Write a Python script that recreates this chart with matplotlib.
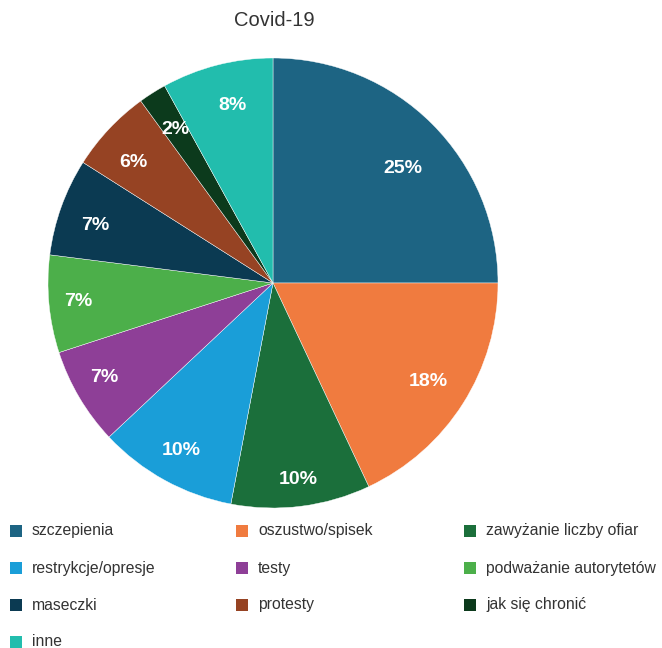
import numpy as np
import matplotlib
matplotlib.use("Agg")
import matplotlib.pyplot as plt
from matplotlib.patches import Rectangle

plt.rcParams['font.family'] = ['Liberation Sans', 'DejaVu Sans']

title = "Covid-19"
categories = ["szczepienia", "oszustwo/spisek", "zawyżanie liczby ofiar",
              "restrykcje/opresje", "testy", "podważanie autorytetów",
              "maseczki", "protesty", "jak się chronić", "inne"]
values = [25, 18, 10, 10, 7, 7, 7, 6, 2, 8]
colors = ["#1d6483", "#f07b3f", "#1b6f3b", "#1a9ed8", "#8e3f97",
          "#4caf4a", "#0b3a52", "#964323", "#0c3a1c", "#22bdad"]

# placement of the percentage labels inside each wedge
label_radius = [0.77, 0.82, 0.88, 0.85, 0.86, 0.87, 0.83, 0.82, 0.81, 0.81]
label_shift_deg = [3.5, 0, 0, 0, 1.5, 0, -2, -2.4, 0, 1.4]

W, H = 662, 648
fig = plt.figure(figsize=(W / 100, H / 100), dpi=100)

cx, cy, r = 273, 283, 225
ax = fig.add_axes([(cx - r) / W, (H - cy - r) / H, 2 * r / W, 2 * r / H])
wedges, texts, autotexts = ax.pie(
    values, colors=colors, startangle=90, counterclock=False, radius=1,
    autopct=lambda p: f"{p:.0f}%", pctdistance=0.8,
    wedgeprops=dict(edgecolor="white", linewidth=0.3),
    textprops=dict(color="white", fontsize=14, fontweight="bold"))

total = sum(values)
start = 0.0
for v, t, rad, sh in zip(values, autotexts, label_radius, label_shift_deg):
    mid = np.deg2rad((start + v / 2) / total * 360 + sh)  # clockwise from top
    t.set_position((rad * np.sin(mid), rad * np.cos(mid)))
    start += v

ax.set_xlim(-1, 1)
ax.set_ylim(-1, 1)
ax.set_aspect("equal")
ax.axis("off")

fig.text(274.5 / W, 1 - 21 / H, title, ha="center", va="center",
         fontsize=14.5, color="#333333")

# legend laid out row by row in three columns
col_x = [10, 236, 464]
row_y = [531, 568, 605, 642]
for i, (name, c) in enumerate(zip(categories, colors)):
    row, col = divmod(i, 3)
    x, y = col_x[col], row_y[row]
    fig.add_artist(Rectangle((x / W, (H - y - 6) / H), 12 / W, 12 / H,
                             transform=fig.transFigure, facecolor=c,
                             edgecolor="none"))
    fig.text((x + 22) / W, 1 - y / H, name, ha="left", va="center",
             fontsize=11.3, color="#333333")

fig.savefig("out.png", dpi=100)
